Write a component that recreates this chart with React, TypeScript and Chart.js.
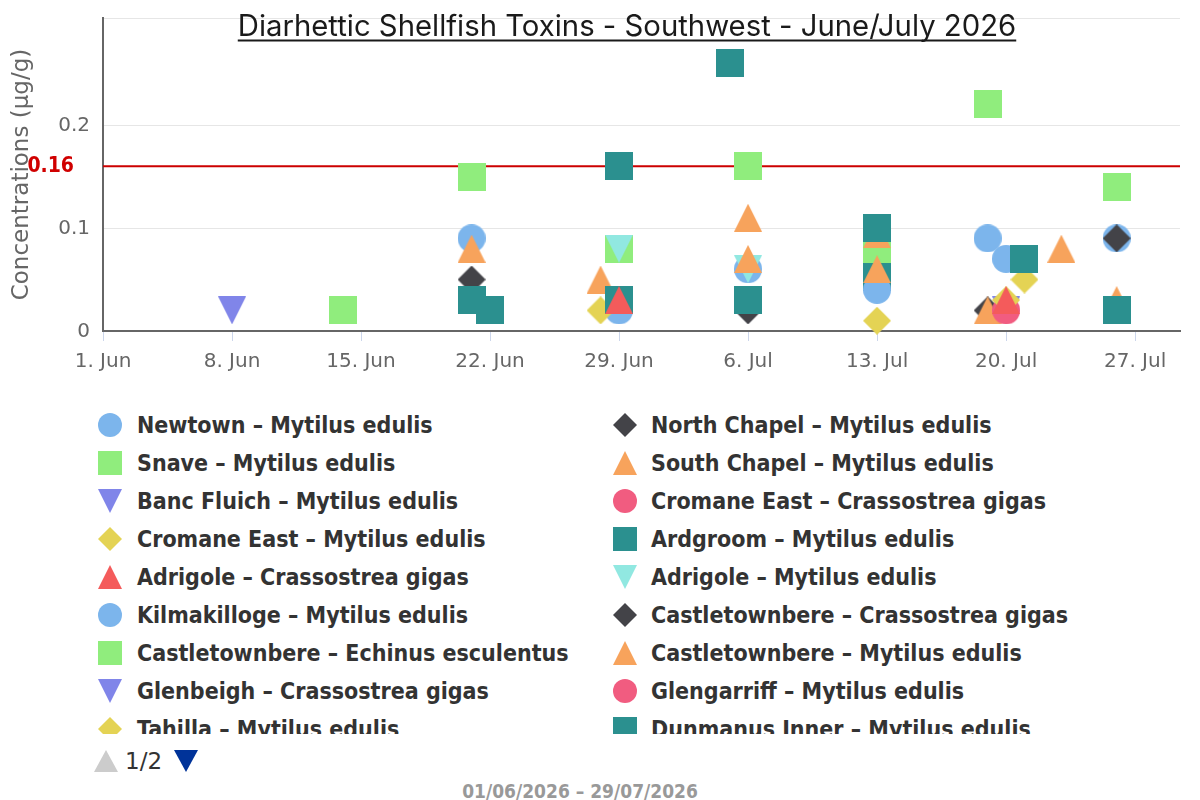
import React, { useEffect, useRef } from "react";
import { Chart, registerables } from "chart.js";

Chart.register(...registerables);

// ---------- texts ----------
const TITLE = "Diarhettic Shellfish Toxins - Southwest - June/July 2026";
const Y_TITLE = "Concentrations (µg/g)";
const RANGE_TEXT = "01/06/2026 – 29/07/2026";
const PAGE_TEXT = "1/2";

// ---------- axes ----------
const X_START = "2026-06-01";
const X_END = "2026-07-29T10:30";
const X_TICK_DATES = [
  "2026-06-01", "2026-06-08", "2026-06-15", "2026-06-22", "2026-06-29",
  "2026-07-06", "2026-07-13", "2026-07-20", "2026-07-27",
];
const MONTHS = ["Jan", "Feb", "Mar", "Apr", "May", "Jun", "Jul", "Aug", "Sep", "Oct", "Nov", "Dec"];
const Y_TICKS = [0, 0.1, 0.2];
const Y_MAX = 0.304;
const LIMIT_VALUE = 0.16;
const LIMIT_LABEL = "0.16";

// ---------- series ----------
const SERIES_NAMES = [
  "Newtown – Mytilus edulis",
  "North Chapel – Mytilus edulis",
  "Snave – Mytilus edulis",
  "South Chapel – Mytilus edulis",
  "Banc Fluich – Mytilus edulis",
  "Cromane East – Crassostrea gigas",
  "Cromane East – Mytilus edulis",
  "Ardgroom – Mytilus edulis",
  "Adrigole – Crassostrea gigas",
  "Adrigole – Mytilus edulis",
  "Kilmakilloge – Mytilus edulis",
  "Castletownbere – Crassostrea gigas",
  "Castletownbere – Echinus esculentus",
  "Castletownbere – Mytilus edulis",
  "Glenbeigh – Crassostrea gigas",
  "Glengarriff – Mytilus edulis",
  "Tahilla – Mytilus edulis",
  "Dunmanus Inner – Mytilus edulis",
];
const SERIES_SYMBOLS = [
  "circle", "diamond", "square", "triangle", "triangle-down",
  "circle", "diamond", "square", "triangle", "triangle-down",
  "circle", "diamond", "square", "triangle", "triangle-down",
  "circle", "diamond", "square",
];
const SERIES_COLORS = [
  "#7cb5ec", "#434348", "#90ed7d", "#f7a35c", "#8085e9",
  "#f15c80", "#e4d354", "#2b908f", "#f45b5b", "#91e8e1",
  "#7cb5ec", "#434348", "#90ed7d", "#f7a35c", "#8085e9",
  "#f15c80", "#e4d354", "#2b908f",
];

const NEWTOWN_DATES = ["2026-06-21", "2026-06-29", "2026-07-06", "2026-07-13", "2026-07-19"];
const NEWTOWN_VALUES = [0.09, 0.02, 0.06, 0.09, 0.09];
const NORTH_CHAPEL_DATES = ["2026-06-21", "2026-07-06", "2026-07-19"];
const NORTH_CHAPEL_VALUES = [0.05, 0.02, 0.02];
const SNAVE_DATES = ["2026-06-21", "2026-06-29", "2026-07-06", "2026-07-13", "2026-07-19", "2026-07-26"];
const SNAVE_VALUES = [0.15, 0.08, 0.16, 0.075, 0.22, 0.14];
const SOUTH_CHAPEL_DATES = ["2026-06-21", "2026-06-28", "2026-07-06", "2026-07-13", "2026-07-19"];
const SOUTH_CHAPEL_VALUES = [0.08, 0.05, 0.11, 0.094, 0.02];
const BANC_FLUICH_DATES = ["2026-06-08", "2026-07-20"];
const BANC_FLUICH_VALUES = [0.02, 0.02];
const CROMANE_CG_DATES = ["2026-07-20"];
const CROMANE_CG_VALUES = [0.02];
const CROMANE_ME_DATES = ["2026-06-28", "2026-07-20"];
const CROMANE_ME_VALUES = [0.02, 0.03];
const ARDGROOM_DATES = ["2026-06-21", "2026-06-29", "2026-07-06", "2026-07-13"];
const ARDGROOM_VALUES = [0.03, 0.03, 0.03, 0.052];
const ADRIGOLE_CG_DATES = ["2026-06-29", "2026-07-20"];
const ADRIGOLE_CG_VALUES = [0.03, 0.03];
const ADRIGOLE_ME_DATES = ["2026-06-29", "2026-07-06"];
const ADRIGOLE_ME_VALUES = [0.08, 0.06];
const KILMAKILLOGE_DATES = ["2026-07-13", "2026-07-20", "2026-07-26"];
const KILMAKILLOGE_VALUES = [0.04, 0.07, 0.09];
const CASTLETOWNBERE_CG_DATES = ["2026-07-26"];
const CASTLETOWNBERE_CG_VALUES = [0.09];
const CASTLETOWNBERE_EE_DATES = ["2026-06-14"];
const CASTLETOWNBERE_EE_VALUES = [0.02];
const CASTLETOWNBERE_ME_DATES = ["2026-07-06", "2026-07-13", "2026-07-23", "2026-07-26"];
const CASTLETOWNBERE_ME_VALUES = [0.07, 0.06, 0.08, 0.03];
const GLENBEIGH_DATES: string[] = [];
const GLENBEIGH_VALUES: number[] = [];
const GLENGARRIFF_DATES: string[] = [];
const GLENGARRIFF_VALUES: number[] = [];
const TAHILLA_DATES = ["2026-07-13", "2026-07-21"];
const TAHILLA_VALUES = [0.01, 0.05];
const DUNMANUS_INNER_DATES = ["2026-06-22", "2026-06-29", "2026-07-05", "2026-07-13", "2026-07-21", "2026-07-26"];
const DUNMANUS_INNER_VALUES = [0.02, 0.16, 0.26, 0.1, 0.07, 0.02];

const SERIES_DATES = [
  NEWTOWN_DATES, NORTH_CHAPEL_DATES, SNAVE_DATES, SOUTH_CHAPEL_DATES, BANC_FLUICH_DATES,
  CROMANE_CG_DATES, CROMANE_ME_DATES, ARDGROOM_DATES, ADRIGOLE_CG_DATES, ADRIGOLE_ME_DATES,
  KILMAKILLOGE_DATES, CASTLETOWNBERE_CG_DATES, CASTLETOWNBERE_EE_DATES, CASTLETOWNBERE_ME_DATES,
  GLENBEIGH_DATES, GLENGARRIFF_DATES, TAHILLA_DATES, DUNMANUS_INNER_DATES,
];
const SERIES_VALUES = [
  NEWTOWN_VALUES, NORTH_CHAPEL_VALUES, SNAVE_VALUES, SOUTH_CHAPEL_VALUES, BANC_FLUICH_VALUES,
  CROMANE_CG_VALUES, CROMANE_ME_VALUES, ARDGROOM_VALUES, ADRIGOLE_CG_VALUES, ADRIGOLE_ME_VALUES,
  KILMAKILLOGE_VALUES, CASTLETOWNBERE_CG_VALUES, CASTLETOWNBERE_EE_VALUES, CASTLETOWNBERE_ME_VALUES,
  GLENBEIGH_VALUES, GLENGARRIFF_VALUES, TAHILLA_VALUES, DUNMANUS_INNER_VALUES,
];

// ---------- helpers ----------
const DAY_MS = 86400000;
const toMs = (s: string) => new Date(s.includes("T") ? s + ":00Z" : s + "T00:00:00Z").getTime();
const START_MS = toMs(X_START);
const toDay = (s: string) => (toMs(s) - START_MS) / DAY_MS;
const dayLabel = (v: number) => {
  const d = new Date(START_MS + v * DAY_MS);
  return `${d.getUTCDate()}. ${MONTHS[d.getUTCMonth()]}`;
};

const SANS = '"DejaVu Sans", sans-serif';
const COND = '"DejaVu Sans Condensed", "DejaVu Sans", sans-serif';

function makeMarker(symbol: string, color: string, s: number) {
  const cv = document.createElement("canvas");
  cv.width = s;
  cv.height = s;
  const g = cv.getContext("2d")!;
  const c = s / 2;
  g.fillStyle = color;
  g.beginPath();
  if (symbol === "circle") g.arc(c, c, c, 0, Math.PI * 2);
  else if (symbol === "square") g.rect(0, 0, s, s);
  else if (symbol === "diamond") {
    g.moveTo(c, 0); g.lineTo(s, c); g.lineTo(c, s); g.lineTo(0, c);
  } else if (symbol === "triangle") {
    g.moveTo(c, 0); g.lineTo(s, s); g.lineTo(0, s);
  } else {
    g.moveTo(0, 0); g.lineTo(s, 0); g.lineTo(c, s);
  }
  g.closePath();
  g.fill();
  return cv;
}

function LegendMarker({ symbol, color }: { symbol: string; color: string }) {
  const s = 24;
  const c = 12;
  let shape: React.ReactNode;
  if (symbol === "circle") shape = <circle cx={c} cy={c} r={c} fill={color} />;
  else if (symbol === "square") shape = <rect x={0} y={0} width={s} height={s} fill={color} />;
  else if (symbol === "diamond") shape = <polygon points={`${c},0 ${s},${c} ${c},${s} 0,${c}`} fill={color} />;
  else if (symbol === "triangle") shape = <polygon points={`${c},0 ${s},${s} 0,${s}`} fill={color} />;
  else shape = <polygon points={`0,0 ${s},0 ${c},${s}`} fill={color} />;
  return (
    <svg width={s} height={s} style={{ display: "block" }}>
      {shape}
    </svg>
  );
}

const overlayPlugin = {
  id: "overlay",
  beforeDatasetsDraw(chart: any) {
    const { ctx, chartArea, scales } = chart;
    const y = scales.y.getPixelForValue(LIMIT_VALUE);
    ctx.save();
    ctx.strokeStyle = "#cc0000";
    ctx.lineWidth = 2;
    ctx.beginPath();
    ctx.moveTo(chartArea.left, y);
    ctx.lineTo(chartArea.right, y);
    ctx.stroke();
    ctx.restore();
  },
  afterDraw(chart: any) {
    const { ctx, scales } = chart;
    const y = scales.y.getPixelForValue(LIMIT_VALUE);
    ctx.save();
    ctx.font = `bold 21px ${COND}`;
    ctx.fillStyle = "#d00000";
    ctx.textAlign = "right";
    ctx.textBaseline = "middle";
    ctx.fillText(LIMIT_LABEL, 74, y);

    ctx.font = `29.3px Inter, "Open Sans", sans-serif`;
    ctx.fillStyle = "#1a1a1a";
    ctx.textAlign = "center";
    ctx.textBaseline = "alphabetic";
    const cx = 627;
    ctx.fillText(TITLE, cx, 36);
    const w = ctx.measureText(TITLE).width;
    ctx.fillRect(cx - w / 2, 39.5, w, 2);
    ctx.restore();
  },
};

export default function App() {
  const ref = useRef<HTMLCanvasElement>(null);

  useEffect(() => {
    const datasets = SERIES_NAMES.map((name, i) => ({
      label: name,
      data: SERIES_DATES[i].map((d, j) => ({ x: toDay(d), y: SERIES_VALUES[i][j] })),
      pointStyle: makeMarker(SERIES_SYMBOLS[i], SERIES_COLORS[i], 28) as any,
      pointRadius: 14,
      pointBorderWidth: 0,
      backgroundColor: SERIES_COLORS[i],
      borderColor: SERIES_COLORS[i],
      showLine: false,
      order: -i,
      clip: 20,
    }));

    const chart = new Chart(ref.current!, {
      type: "scatter",
      data: { datasets },
      options: {
        animation: false,
        responsive: false,
        events: [],
        layout: { padding: { top: 18, right: 20, left: 0, bottom: 0 } },
        plugins: {
          legend: { display: false },
          tooltip: { enabled: false },
          title: { display: false },
        },
        scales: {
          x: {
            type: "linear",
            min: 0,
            max: toDay(X_END),
            afterBuildTicks: (scale: any) => {
              scale.ticks = X_TICK_DATES.map((d) => ({ value: toDay(d) }));
            },
            afterFit: (scale: any) => {
              scale.height = 49;
            },
            grid: {
              display: true,
              drawOnChartArea: false,
              drawTicks: true,
              tickLength: 10,
              tickColor: "#ccd6eb",
              tickWidth: 1,
            },
            border: { display: true, color: "#666666", width: 2 },
            ticks: {
              autoSkip: false,
              maxRotation: 0,
              padding: 9,
              color: "#666666",
              font: { family: SANS, size: 20 },
              callback: (v: any) => dayLabel(Number(v)),
            },
          },
          y: {
            type: "linear",
            min: 0,
            max: Y_MAX,
            afterBuildTicks: (scale: any) => {
              scale.ticks = [...Y_TICKS, Y_MAX].map((v) => ({ value: v }));
            },
            afterFit: (scale: any) => {
              scale.width = 103;
            },
            grid: {
              color: "#e6e6e6",
              lineWidth: 1,
              drawTicks: false,
            },
            border: { display: true, color: "#666666", width: 2 },
            ticks: {
              padding: 13,
              labelOffset: 1,
              color: "#666666",
              font: (c: any) =>
                c.tick && c.tick.value === Y_MAX
                  ? { family: SANS, size: 1 }
                  : { family: SANS, size: 20 },
              callback: (v: any) => (Number(v) === Y_MAX ? "" : String(v)),
            },
            title: {
              display: true,
              text: Y_TITLE,
              color: "#666666",
              font: { family: SANS, size: 23 },
              padding: { top: 8, bottom: 0 },
            },
          },
        },
      },
      plugins: [overlayPlugin],
    } as any);
    return () => chart.destroy();
  }, []);

  return (
    <div
      style={{
        position: "fixed",
        left: 0,
        top: 0,
        width: 1200,
        height: 800,
        background: "#ffffff",
        overflow: "hidden",
      }}
    >
      <canvas
        ref={ref}
        width={1200}
        height={380}
        style={{ position: "absolute", left: 0, top: 0, width: 1200, height: 380 }}
      />
      <div
        style={{
          position: "absolute",
          left: 0,
          top: 406,
          width: 1200,
          height: 328,
          overflow: "hidden",
        }}
      >
        {SERIES_NAMES.map((name, i) => {
          const row = Math.floor(i / 2);
          const col = i % 2;
          const symX = col === 0 ? 98 : 613;
          const textX = col === 0 ? 137 : 651;
          return (
            <React.Fragment key={i}>
              <div style={{ position: "absolute", left: symX, top: row * 38 + 7 }}>
                <LegendMarker symbol={SERIES_SYMBOLS[i]} color={SERIES_COLORS[i]} />
              </div>
              <div
                style={{
                  position: "absolute",
                  left: textX,
                  top: row * 38,
                  height: 38,
                  lineHeight: "38px",
                  fontFamily: COND,
                  fontWeight: "bold",
                  fontSize: 23,
                  color: "#333333",
                  whiteSpace: "nowrap",
                }}
              >
                {name}
              </div>
            </React.Fragment>
          );
        })}
      </div>
      <svg width={24} height={22} style={{ position: "absolute", left: 94, top: 750 }}>
        <polygon points="12,0 24,22 0,22" fill="#cccccc" />
      </svg>
      <div
        style={{
          position: "absolute",
          left: 125,
          top: 745,
          lineHeight: "32px",
          fontFamily: SANS,
          fontSize: 23,
          color: "#333333",
        }}
      >
        {PAGE_TEXT}
      </div>
      <svg width={24} height={22} style={{ position: "absolute", left: 174, top: 750 }}>
        <polygon points="0,0 24,0 12,22" fill="#003399" />
      </svg>
      <div
        style={{
          position: "absolute",
          left: 0,
          width: 1160,
          top: 780,
          lineHeight: "22px",
          textAlign: "center",
          fontFamily: COND,
          fontWeight: "bold",
          fontSize: 19,
          color: "#999999",
        }}
      >
        {RANGE_TEXT}
      </div>
    </div>
  );
}
